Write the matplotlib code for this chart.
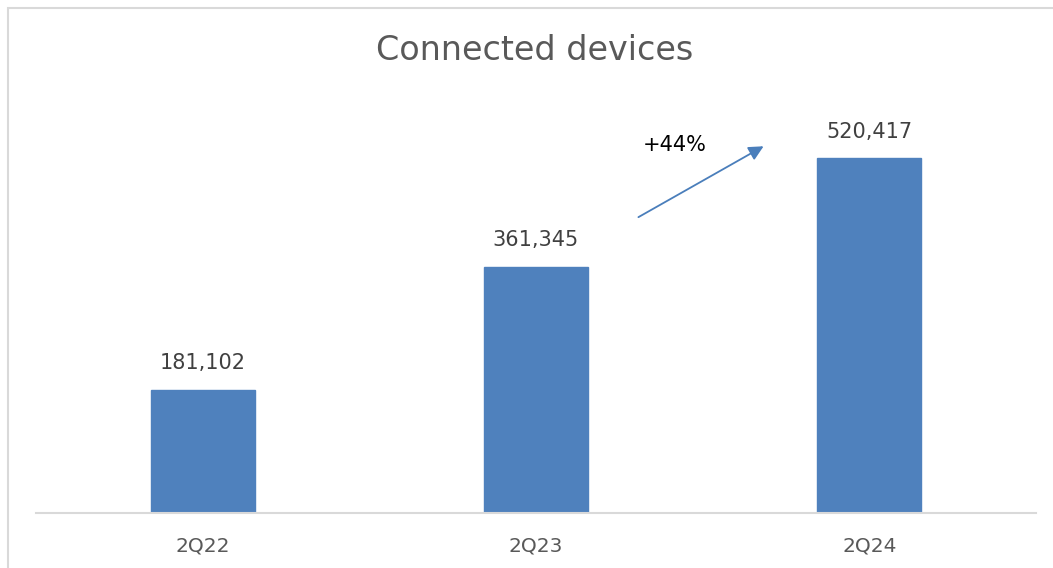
import matplotlib.pyplot as plt
from matplotlib.patches import Rectangle

# chart data
quarters = ['2Q22', '2Q23', '2Q24']
devices = [181102, 361345, 520417]
growth_label = '+44%'

fig = plt.figure(figsize=(10.53, 5.68), dpi=100)
ax = fig.add_axes([36 / 1053, 55 / 568, 1000 / 1053, 409 / 568])

# light gray frame round the chart (runs off the right and bottom edge)
fig.patches.append(Rectangle((8 / 1053, -0.1), 1.2, 1 - 8 / 568 + 0.1,
                             transform=fig.transFigure, fill=False,
                             edgecolor='#d9d9d9', linewidth=1.5))

x = range(len(quarters))
bars = ax.bar(x, devices, width=0.312, color='#4f81bd', edgecolor='#4f81bd')

for b, v in zip(bars, devices):
    ax.annotate(f'{v:,}', (b.get_x() + b.get_width() / 2, v),
                textcoords='offset points', xytext=(0, 12),
                ha='center', va='bottom', fontsize=15, color='#404040')

ax.set_xlim(-0.5, 2.5)
ax.set_ylim(0, 600000)
ax.set_xticks(list(x))
ax.set_xticklabels(quarters, fontsize=14.5, color='#595959')
ax.tick_params(axis='x', length=0, pad=17)
ax.set_yticks([])
for s in ['top', 'right', 'left']:
    ax.spines[s].set_visible(False)
ax.spines['bottom'].set_color('#d9d9d9')
ax.spines['bottom'].set_linewidth(1.5)

# growth arrow between 2Q23 and 2Q24
ax.annotate('', xy=(1.69, 540000), xytext=(1.30, 432000),
            arrowprops=dict(arrowstyle='-|>', color='#4a7ebb', lw=1.3,
                            mutation_scale=22))
ax.text(1.32, 540000, growth_label, fontsize=15, color='black',
        ha='left', va='center')

fig.text(535 / 1053, 1 - 50 / 568, 'Connected devices', fontsize=24,
         color='#595959', ha='center', va='center')

plt.savefig('out.png', dpi=100)
